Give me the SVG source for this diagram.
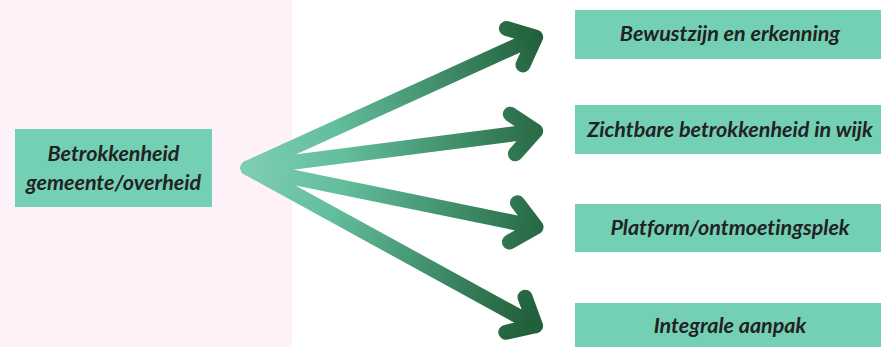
<svg xmlns="http://www.w3.org/2000/svg" width="881" height="347" viewBox="0 0 881 347">
<defs>
<style>
.box{fill:#74D0B5}
.t{font-family:Lato,"Liberation Sans",sans-serif;font-weight:bold;font-style:italic;font-size:21.5px;fill:#222222;text-anchor:middle;font-variant-ligatures:none;font-feature-settings:"liga" 0,"clig" 0}
.arr{fill:none;stroke:url(#g);stroke-width:15;stroke-linecap:round;stroke-linejoin:round}
</style>
<linearGradient id="g" gradientUnits="userSpaceOnUse" x1="0" y1="0" x2="320" y2="0">
<stop offset="0" stop-color="#7ECDB3"/>
<stop offset="0.3" stop-color="#62BE9C"/>
<stop offset="1" stop-color="#21603A"/>
</linearGradient>
</defs>
<rect x="0" y="0" width="292" height="347" fill="#FEF2F8"/>
<g id="connectors">
<path class="arr" transform="translate(248,168) rotate(-24.46)" d="M0,0 H316 M293,-20 L316,0 L293,20"/>
<path class="arr" transform="translate(248,168) rotate(-7.32)" d="M0,0 H290 M267,-20 L290,0 L267,20"/>
<path class="arr" transform="translate(248,168) rotate(11.58)" d="M0,0 H294 M271,-20 L294,0 L271,20"/>
<path class="arr" transform="translate(248,168) rotate(28.75)" d="M0,0 H328 M305,-20 L328,0 L305,20"/>
</g>
<g id="n0">
<rect class="box" x="15" y="129" width="197" height="78"/>
<text class="t" x="113.5" y="161">Betrokkenheid</text>
<text class="t" x="113.5" y="190">gemeente/overheid</text>
</g>
<g id="n1">
<rect class="box" x="575" y="10" width="306" height="49"/>
<text class="t" x="730" y="41">Bewustzijn en erkenning</text>
</g>
<g id="n2">
<rect class="box" x="575" y="105" width="306" height="49"/>
<text class="t" x="730" y="137">Zichtbare betrokkenheid in wijk</text>
</g>
<g id="n3">
<rect class="box" x="575" y="204" width="306" height="48"/>
<text class="t" x="730" y="235">Platform/ontmoetingsplek</text>
</g>
<g id="n4">
<rect class="box" x="575" y="303" width="306" height="44"/>
<text class="t" x="730" y="333">Integrale aanpak</text>
</g>
</svg>
